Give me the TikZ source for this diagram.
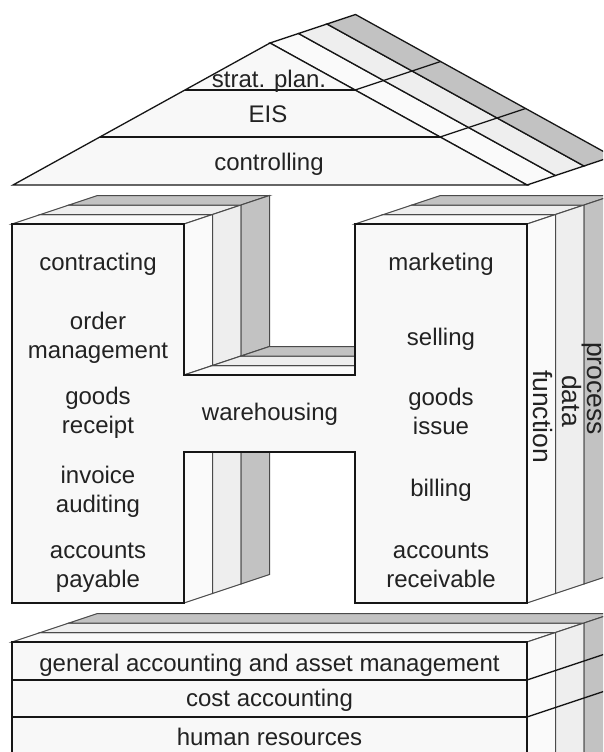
\documentclass[tikz,border=0pt]{standalone}
\usepackage{fontspec}
\setmainfont{Liberation Sans}
\definecolor{facec}{HTML}{F8F8F8}
\definecolor{layA}{HTML}{FAFAFA}
\definecolor{layB}{HTML}{EEEEEE}
\definecolor{layC}{HTML}{C2C2C2}
\definecolor{edge}{HTML}{161616}
\definecolor{sep}{HTML}{4A4A4A}
\definecolor{txt}{HTML}{222222}
\begin{document}
\begin{tikzpicture}[x=1pt,y=-1pt,
  lbl/.style={font=\fontsize{24}{29}\selectfont, text=txt, align=center, inner sep=0pt},
  vlbl/.style={lbl, font=\fontsize{26.5}{30}\selectfont, rotate=-90},
  front/.style={fill=facec, draw=edge, line width=1.3pt, line join=miter},
  roofln/.style={draw=edge, line width=1.3pt, line join=miter},
  sepln/.style={draw=sep, line width=1pt, line join=miter},
]
\useasboundingbox (0,0) rectangle (603,752);
\clip (0,0) rectangle (603,752);
\fill[white] (0,0) rectangle (603,752);

% ---------------- roof ----------------
\foreach \k/\c in {0/layA,1/layB,2/layC}{
  \begin{scope}[shift={({\k*28.5},{-\k*9.5})}]
    \filldraw[fill=\c, roofln] (270,43) -- (298.5,33.5) -- (555.5,175.5) -- (527,185) -- cycle;
  \end{scope}
}
\draw[roofln] (355.1,90) -- (440.6,61.5);
\draw[roofln] (440.1,137) -- (525.6,108.5);
\filldraw[front] (13,185) -- (270,43) -- (527,185) -- cycle;
\draw[roofln] (184.9,90) -- (355.1,90);
\draw[roofln] (99.9,137) -- (440.1,137);

% ---------------- H block ----------------
\foreach \k/\c in {0/layA,1/layB,2/layC}{
  \begin{scope}[shift={({\k*28.5},{-\k*9.5})}]
    % top faces
    \filldraw[fill=\c, sepln] (12,224) -- (184,224) -- (212.5,214.5) -- (40.5,214.5) -- cycle;
    \filldraw[fill=\c, sepln] (355,224) -- (527,224) -- (555.5,214.5) -- (383.5,214.5) -- cycle;
    % left arm, upper inner side
    \filldraw[fill=\c, sepln] (184,224) -- (212.5,214.5) -- (212.5,365.5) -- (184,375) -- cycle;
    % crossbar top
    \filldraw[fill=\c, sepln] (184,375) -- (355,375) -- (383.5,365.5) -- (212.5,365.5) -- cycle;
    % left arm, lower inner side
    \filldraw[fill=\c, sepln] (184,{452+\k*9.5}) -- (212.5,{452+\k*9.5}) -- (212.5,593.5) -- (184,603) -- cycle;
    % right side
    \filldraw[fill=\c, sepln] (527,224) -- (555.5,214.5) -- (555.5,593.5) -- (527,603) -- cycle;
  \end{scope}
}
\filldraw[front] (12,224) -- (184,224) -- (184,375) -- (355,375) -- (355,224) -- (527,224)
  -- (527,603) -- (355,603) -- (355,452) -- (184,452) -- (184,603) -- (12,603) -- cycle;

% ---------------- base ----------------
\foreach \k/\c in {0/layA,1/layB,2/layC}{
  \begin{scope}[shift={({\k*28.5},{-\k*9.5})}]
    \filldraw[fill=\c, sepln] (12,642) -- (527,642) -- (555.5,632.5) -- (40.5,632.5) -- cycle;
    \filldraw[fill=\c, sepln] (527,642) -- (555.5,632.5) -- (555.5,790) -- (527,790) -- cycle;
  \end{scope}
}
\draw[roofln] (527,680) -- (612.5,651.5);
\draw[roofln] (527,717) -- (612.5,688.5);
\filldraw[front] (12,642) rectangle (527,790);
\draw[roofln] (12,680) -- (527,680);
\draw[roofln] (12,717) -- (527,717);

% ---------------- labels ----------------
\node[lbl, anchor=base] (strat) at (269,88) {strat. plan.};
\node[lbl, anchor=base] (eis) at (268,122) {EIS};
\node[lbl, anchor=base] (ctrl) at (269,170) {controlling};

\node[lbl, anchor=base] (contr) at (98,270.5) {contracting};
\node[lbl] (order) at (98,338) {order\\management};
\node[lbl] (grec) at (98,413) {goods\\receipt};
\node[lbl] (inv) at (98,492) {invoice\\auditing};
\node[lbl] (pay) at (98,568) {accounts\\payable};

\node[lbl, anchor=base] (ware) at (270,420.5) {warehousing};

\node[lbl, anchor=base] (mark) at (441,270.5) {marketing};
\node[lbl, anchor=base] (sell) at (441,345.5) {selling};
\node[lbl] (giss) at (441,411) {goods\\issue};
\node[lbl, anchor=base] (bill) at (441,496) {billing};
\node[lbl] (rec) at (441,565) {accounts\\receivable};

\node[vlbl] (func) at (543,416.5) {function};
\node[vlbl] (data) at (571.5,401) {data};
\node[vlbl] (proc) at (591.5,388.5) {process};

\node[lbl, anchor=base] (gen) at (269.5,671) {general accounting and asset management};
\node[lbl, anchor=base] (cost) at (269.5,706.5) {cost accounting};
\node[lbl, anchor=base] (hr) at (269.5,745) {human resources};
\end{tikzpicture}
\end{document}
